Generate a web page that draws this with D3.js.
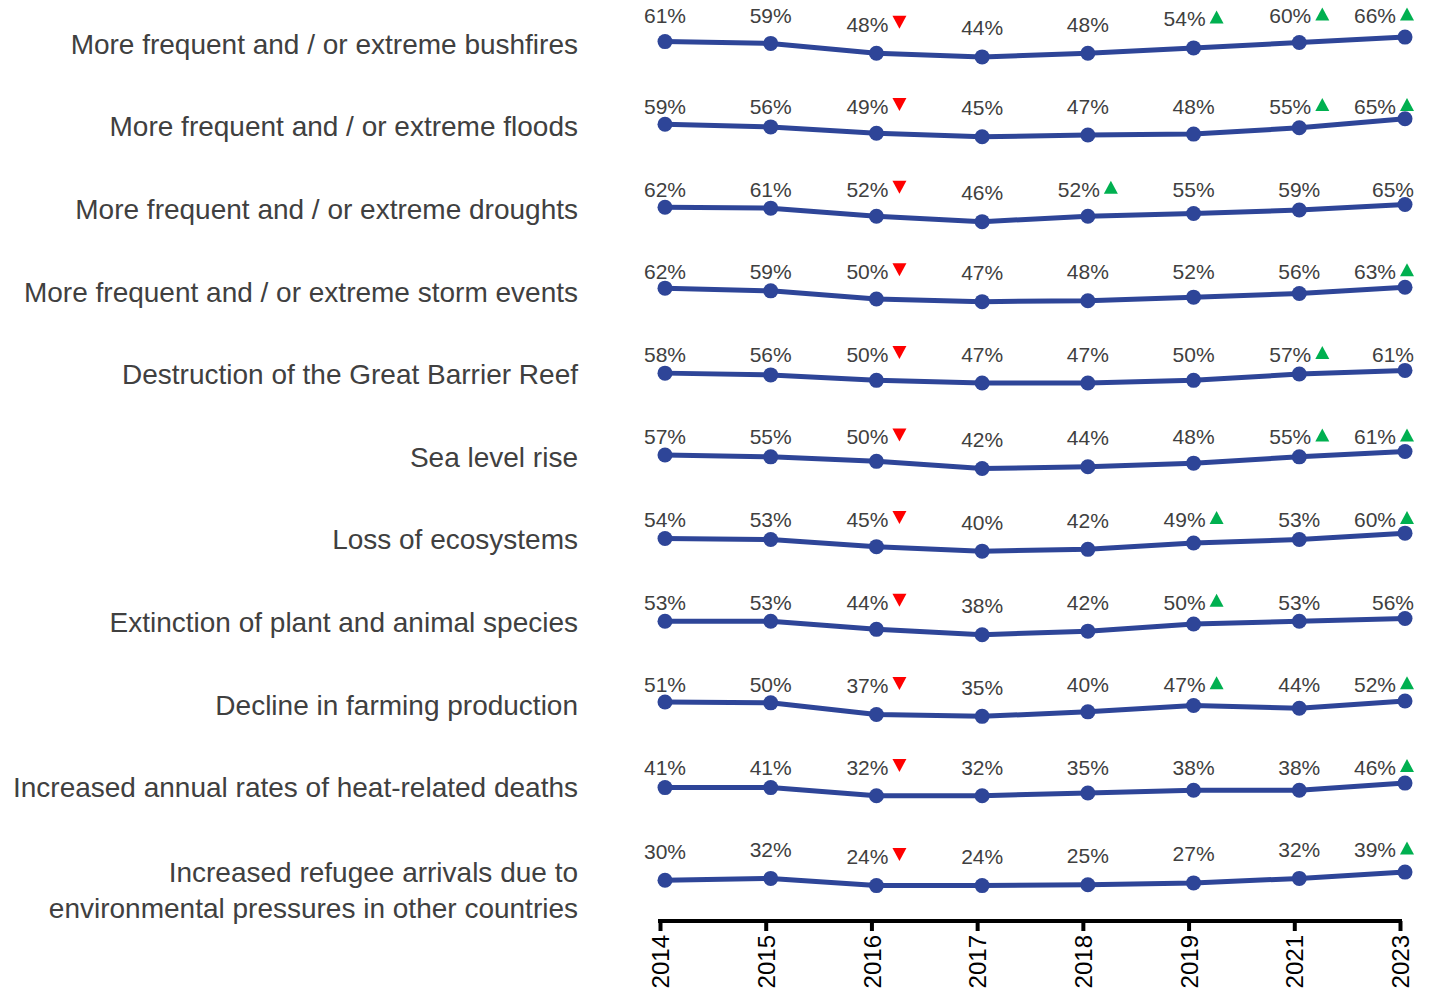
<!DOCTYPE html>
<html>
<head>
<meta charset="utf-8">
<script src="https://cdn.jsdelivr.net/npm/d3@7"></script>
<style>
  html, body { margin: 0; padding: 0; background: #ffffff; }
  svg { display: block; font-family: "Liberation Sans", Arial, sans-serif; }
</style>
</head>
<body>
<svg id="chart" width="1445" height="990"></svg>
<script>
// Survey waves shown along the bottom axis
const years = ["2014", "2015", "2016", "2017", "2018", "2019", "2021", "2023"];

// Concern items, one small line per row (multi-line labels split on "\n")
const categories = [
  "More frequent and / or extreme bushfires",
  "More frequent and / or extreme floods",
  "More frequent and / or extreme droughts",
  "More frequent and / or extreme storm events",
  "Destruction of the Great Barrier Reef",
  "Sea level rise",
  "Loss of ecosystems",
  "Extinction of plant and animal species",
  "Decline in farming production",
  "Increased annual rates of heat-related deaths",
  "Increased refugee arrivals due to\nenvironmental pressures in other countries"
];

// Percentage per item per wave (same order as years)
const bushfires   = [61, 59, 48, 44, 48, 54, 60, 66];
const floods      = [59, 56, 49, 45, 47, 48, 55, 65];
const droughts    = [62, 61, 52, 46, 52, 55, 59, 65];
const storms      = [62, 59, 50, 47, 48, 52, 56, 63];
const reef        = [58, 56, 50, 47, 47, 50, 57, 61];
const seaLevel    = [57, 55, 50, 42, 44, 48, 55, 61];
const ecosystems  = [54, 53, 45, 40, 42, 49, 53, 60];
const extinction  = [53, 53, 44, 38, 42, 50, 53, 56];
const farming     = [51, 50, 37, 35, 40, 47, 44, 52];
const heatDeaths  = [41, 41, 32, 32, 35, 38, 38, 46];
const refugees    = [30, 32, 24, 24, 25, 27, 32, 39];

// Significant change vs previous wave: -1 = down, 1 = up, 0 = none
const chgBushfires  = [0, 0, -1, 0, 0, 1, 1, 1];
const chgFloods     = [0, 0, -1, 0, 0, 0, 1, 1];
const chgDroughts   = [0, 0, -1, 0, 1, 0, 0, 0];
const chgStorms     = [0, 0, -1, 0, 0, 0, 0, 1];
const chgReef       = [0, 0, -1, 0, 0, 0, 1, 0];
const chgSeaLevel   = [0, 0, -1, 0, 0, 0, 1, 1];
const chgEcosystems = [0, 0, -1, 0, 0, 1, 0, 1];
const chgExtinction = [0, 0, -1, 0, 0, 1, 0, 0];
const chgFarming    = [0, 0, -1, 0, 0, 1, 0, 1];
const chgHeat       = [0, 0, -1, 0, 0, 0, 0, 1];
const chgRefugees   = [0, 0, -1, 0, 0, 0, 0, 1];

const seriesValues = [bushfires, floods, droughts, storms, reef, seaLevel,
                      ecosystems, extinction, farming, heatDeaths, refugees];
const seriesChange = [chgBushfires, chgFloods, chgDroughts, chgStorms, chgReef, chgSeaLevel,
                      chgEcosystems, chgExtinction, chgFarming, chgHeat, chgRefugees];

const rows = categories.map((c, i) => ({
  name: c,
  values: seriesValues[i],
  change: seriesChange[i]
}));

// ---- layout & styles ----
const svg = d3.select("#chart");
const lineColor = "#2E4598";
const textColor = "#404040";
const upColor = "#00B050";
const downColor = "#FF0000";
const pxPerPoint = 0.9;      // vertical pixels per percentage point inside a row
const labelRightLimit = 1414;

const x = d3.scalePoint().domain(years).range([665, 1405]);
const rowY = d3.scalePoint().domain(categories).range([44, 870]);

// Each row is centred on its own mean value; two-line rows sit a little lower
rows.forEach(r => {
  const nLines = r.name.split("\n").length;
  const c = rowY(r.name) + 3 + (nLines - 1) * 8;
  const m = d3.mean(r.values);
  r.y = d3.scaleLinear()
    .domain([m - 10, m + 10])
    .range([c + 10 * pxPerPoint, c - 10 * pxPerPoint]);
  r.labelTop = rowY(r.name) - 20;
});

// Row titles on the left
const titles = svg.append("g").attr("class", "row-titles");
rows.forEach(r => {
  const lines = r.name.split("\n");
  const t = titles.append("text")
    .attr("text-anchor", "end")
    .attr("fill", textColor)
    .attr("font-size", 28);
  lines.forEach((ln, i) => {
    t.append("tspan")
      .attr("x", 578)
      .attr("y", rowY(r.name) + (lines.length > 1 ? 2 : 0) + i * 36)
      .attr("dy", "0.35em")
      .text(ln);
  });
});

// Lines and markers
const line = d3.line();
const plot = svg.append("g").attr("class", "plot");
rows.forEach(r => {
  const pts = r.values.map((v, j) => [x(years[j]), r.y(v)]);
  plot.append("path")
    .attr("d", line(pts))
    .attr("fill", "none")
    .attr("stroke", lineColor)
    .attr("stroke-width", 5)
    .attr("stroke-linejoin", "round");
  plot.selectAll(null)
    .data(pts)
    .enter().append("circle")
    .attr("cx", d => d[0])
    .attr("cy", d => d[1])
    .attr("r", 7.5)
    .attr("fill", lineColor);
});

// Value labels with significance arrows
const labels = svg.append("g").attr("class", "value-labels");
const triW = 14, triH = 13, triGap = 4;
rows.forEach((r, i) => {
  r.values.forEach((v, j) => {
    const px = x(years[j]);
    const py = r.y(v);
    const top = i === 0 ? r.labelTop - 8 : r.labelTop;
    const ly = Math.max(top, py - 29);
    const g = labels.append("g");
    const t = g.append("text")
      .attr("fill", textColor)
      .attr("font-size", 21)
      .attr("dy", "0.35em")
      .text(v + "%");
    const tw = t.node().getComputedTextLength();
    const dir = r.change[j];
    const total = tw + (dir !== 0 ? triGap + triW : 0);
    let left = px - total / 2;
    if (left + total > labelRightLimit) left = labelRightLimit - total;
    t.attr("x", left).attr("y", ly);
    if (dir !== 0) {
      const tx = left + tw + triGap;
      const tt = ly - triH / 2 - 2;
      const pts = dir < 0
        ? [[tx, tt], [tx + triW, tt], [tx + triW / 2, tt + triH]]
        : [[tx, tt + triH], [tx + triW, tt + triH], [tx + triW / 2, tt]];
      g.append("path")
        .attr("d", d3.line()(pts) + "Z")
        .attr("fill", dir < 0 ? downColor : upColor);
    }
  });
});

// Year axis
const axis = d3.axisBottom(x).tickSize(10).tickSizeOuter(0).tickPadding(4);
const ax = svg.append("g")
  .attr("transform", "translate(-5,921)")
  .call(axis);
ax.select(".domain")
  .attr("stroke", "#000")
  .attr("stroke-width", 4)
  .attr("d", `M${x.range()[0] - 2},0H${x.range()[1] + 2}`);
ax.selectAll(".tick line").attr("stroke", "#000").attr("stroke-width", 4);
ax.selectAll(".tick text")
  .attr("fill", "#000")
  .attr("font-size", 24)
  .attr("font-family", "Liberation Sans, Arial, sans-serif")
  .attr("text-anchor", "end")
  .attr("transform", "rotate(-90)")
  .attr("x", -14)
  .attr("y", 0)
  .attr("dy", "0.36em");
</script>
</body>
</html>
